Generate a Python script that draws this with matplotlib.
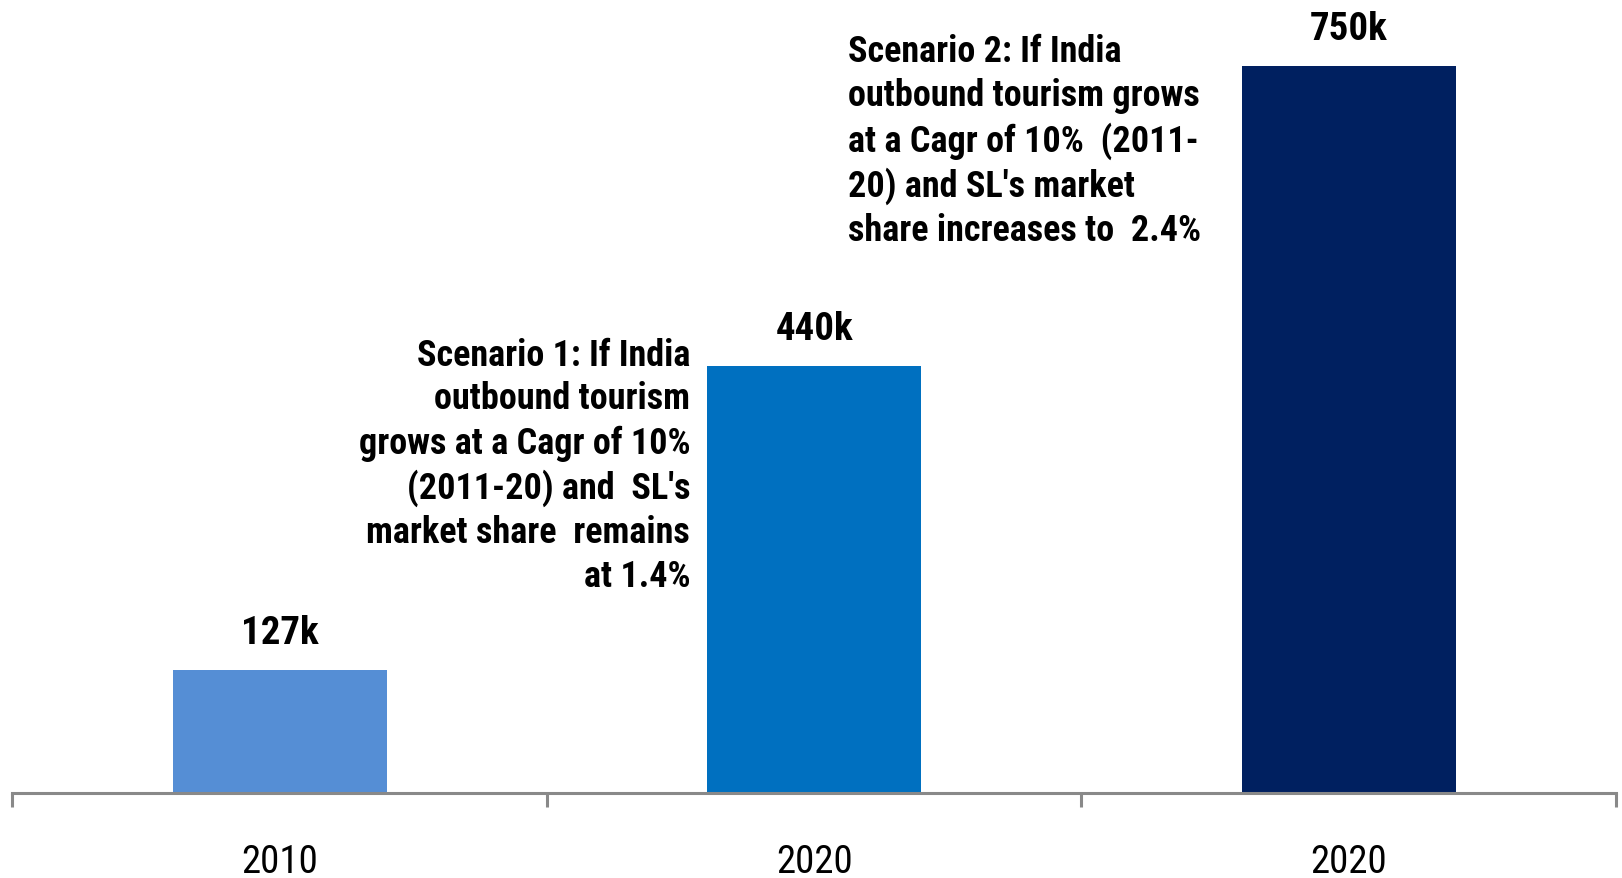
import matplotlib
matplotlib.use('Agg')
import matplotlib.pyplot as plt
from matplotlib.ticker import FixedLocator

plt.rcParams['font.family'] = ['Liberation Sans Narrow', 'Arial Narrow', 'Roboto Condensed',
                               'Archivo Narrow', 'Liberation Sans', 'DejaVu Sans']

# Sri Lanka arrivals from India
years = ['2010', '2020', '2020']
arrivals = [127, 440, 750]  # thousands
labels = ['127k', '440k', '750k']
colors = ['#558ED5', '#0070C0', '#002060']

note1 = ("Scenario 1: If India\n"
         "outbound tourism\n"
         "grows at a Cagr of 10%\n"
         "(2011-20) and  SL's\n"
         "market share  remains\n"
         "at 1.4%")
note2 = ("Scenario 2: If India\n"
         "outbound tourism grows\n"
         "at a Cagr of 10%  (2011-\n"
         "20) and SL's market\n"
         "share increases to  2.4%")

W, H = 1622, 879
fig = plt.figure(figsize=(W / 100, H / 100), dpi=100)
ax = fig.add_axes([12.4 / W, 85 / H, (1616 - 12.4) / W, 794 / H])

x = list(range(len(years)))
ax.bar(x, arrivals, width=0.4, color=colors)

for xi, v, lab in zip(x, arrivals, labels):
    ax.annotate(lab, (xi, v), xytext=(0, 27), textcoords='offset points',
                ha='center', va='center', fontsize=28, fontweight='bold')

ax.text(0.768, 338, note1, ha='right', va='center', multialignment='right',
        fontsize=26, fontweight='bold', linespacing=1.28)
ax.text(1.063, 673, note2, ha='left', va='center', multialignment='left',
        fontsize=26, fontweight='bold', linespacing=1.28)

ax.set_xlim(-0.5, 2.5)
ax.set_ylim(0, 819)

for s in ['top', 'right', 'left']:
    ax.spines[s].set_visible(False)
ax.spines['bottom'].set_color('#898989')
ax.spines['bottom'].set_linewidth(2.2)
ax.set_yticks([])

ax.set_xticks(x)
ax.set_xticklabels(years, fontsize=28)
ax.xaxis.set_minor_locator(FixedLocator([-0.5, 0.5, 1.5, 2.5]))
ax.tick_params(axis='x', which='major', length=0, pad=36)
ax.tick_params(axis='x', which='minor', length=10, width=2.2, color='#898989')

fig.savefig('out.png', dpi=100)
